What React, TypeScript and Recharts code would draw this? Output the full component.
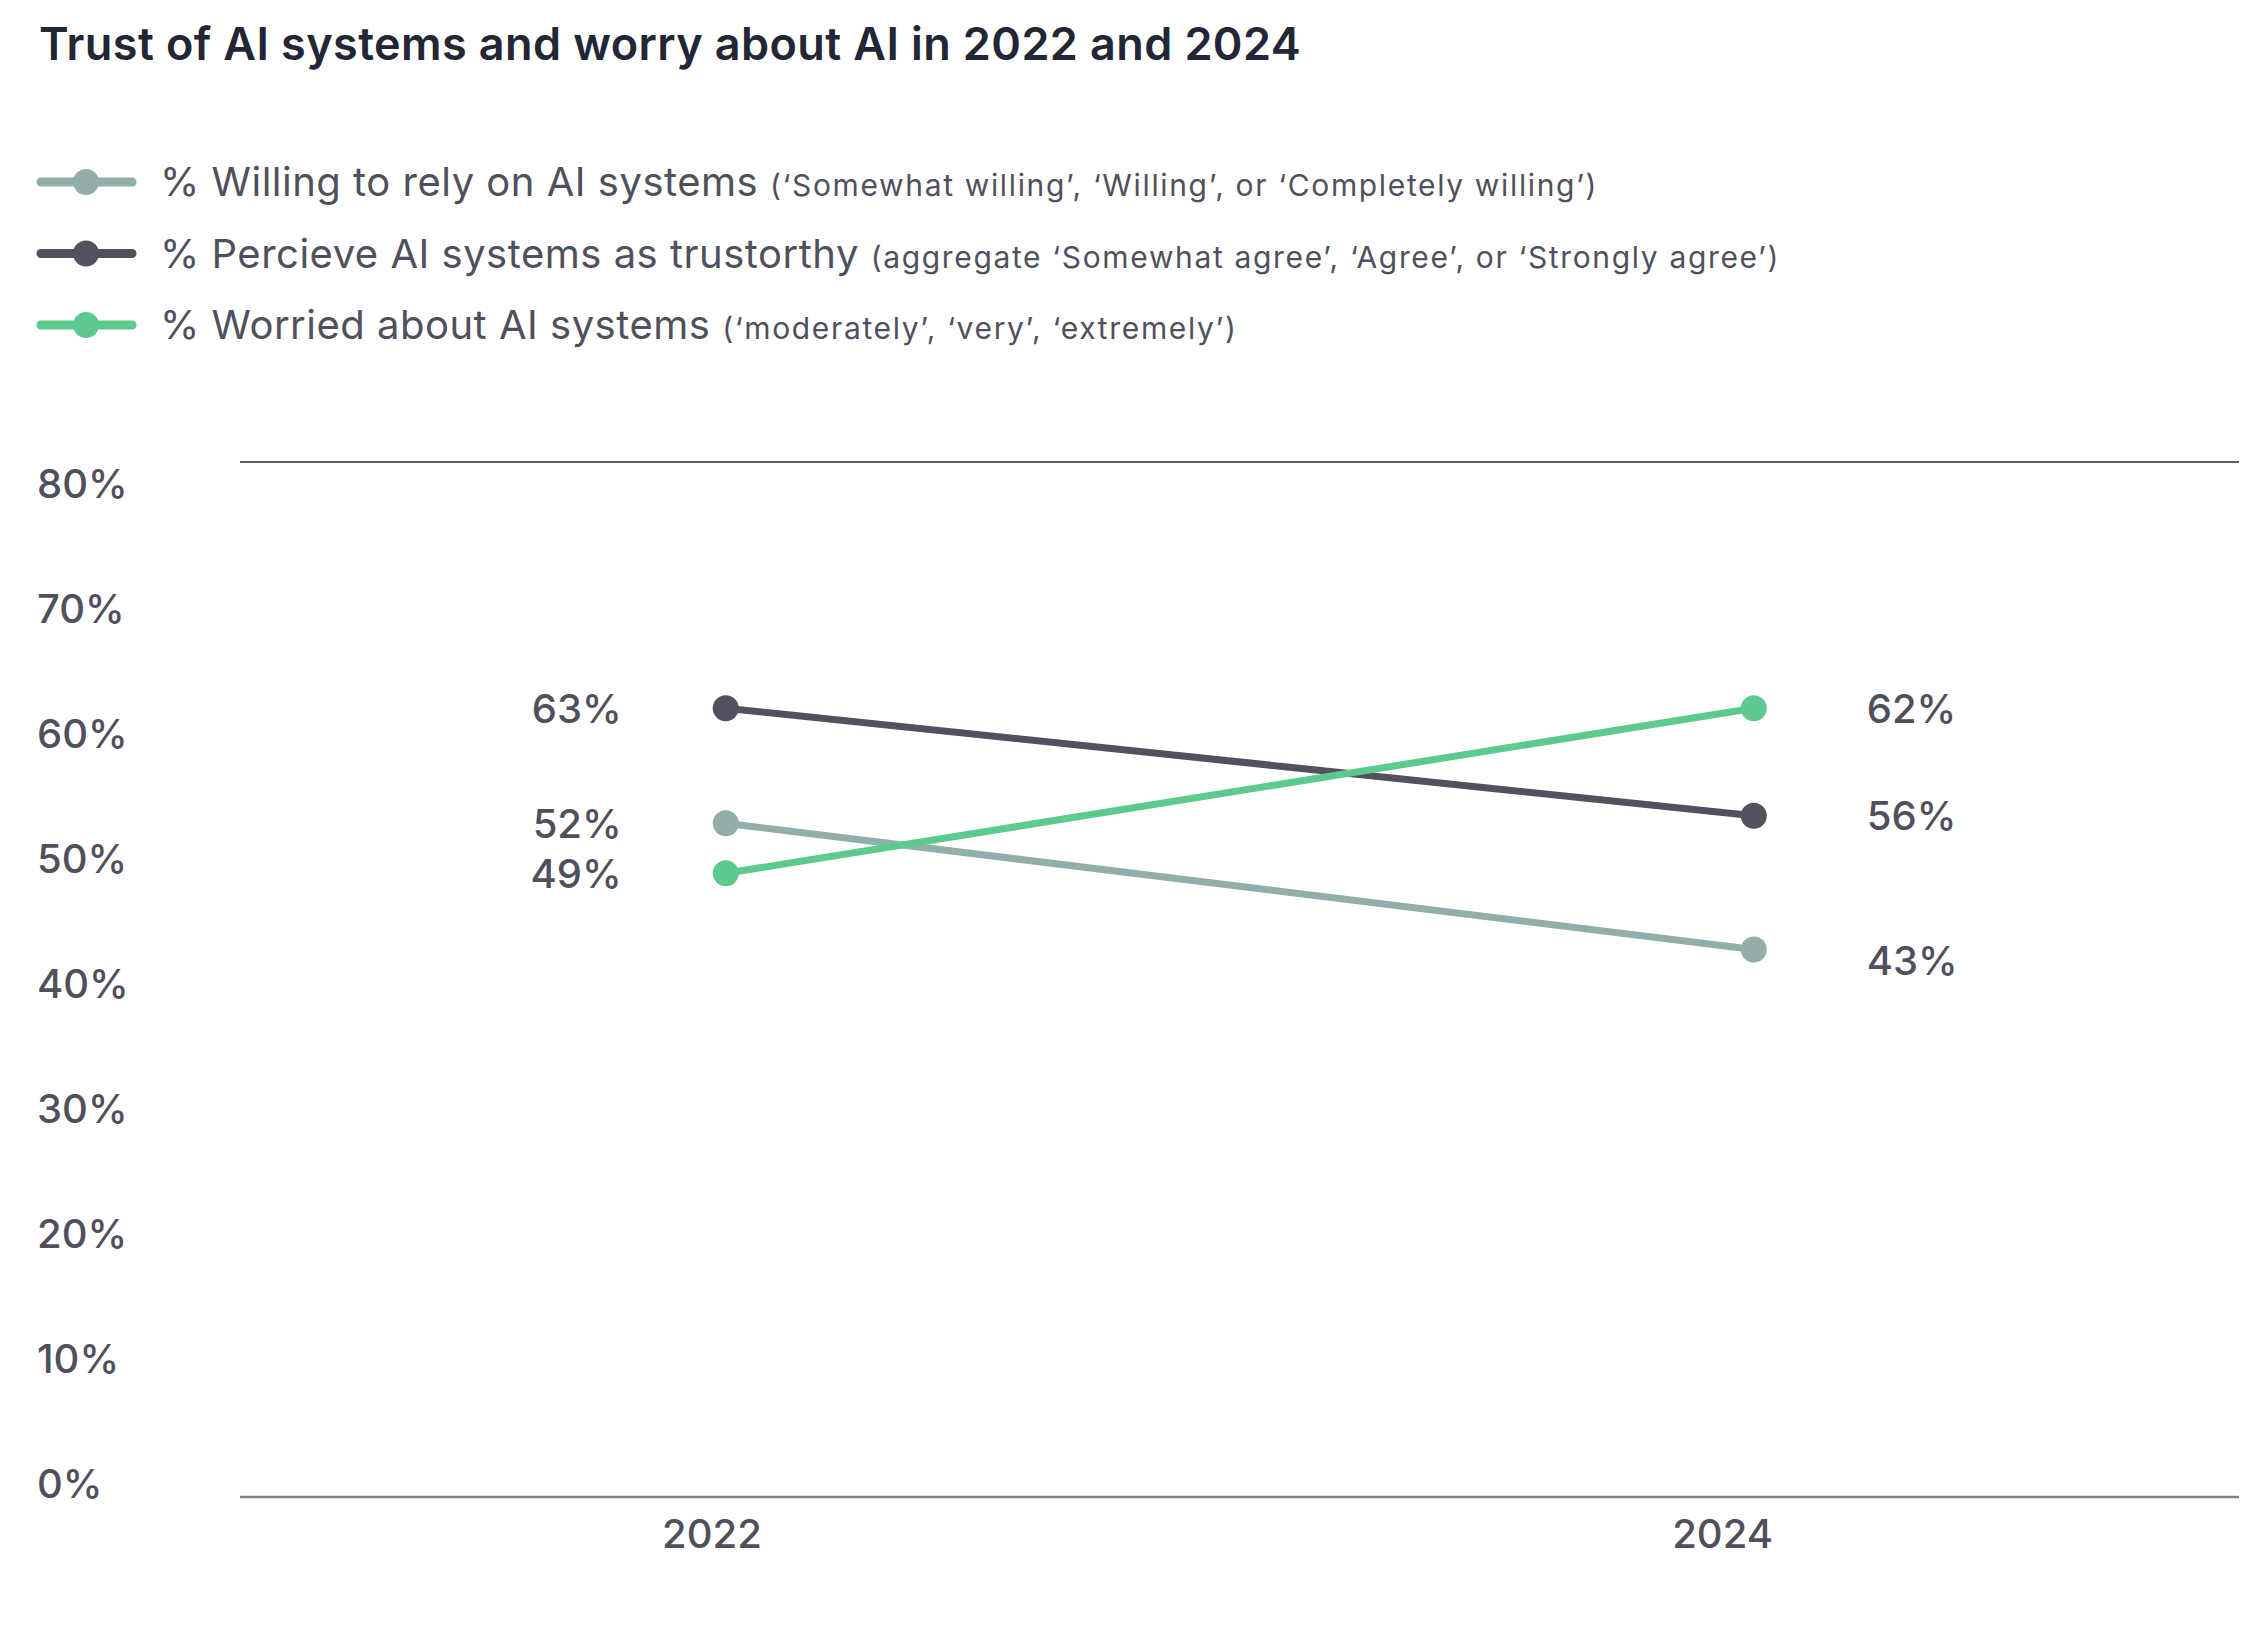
import { LineChart, Line, XAxis, YAxis, LabelList } from 'recharts'

const YEARS = [2022, 2024]
// positions (the printed labels are kept separately)
const WILLING = [52.8, 42.7]
const TRUSTWORTHY = [62.0, 53.4]
const WORRIED = [48.8, 62.0]
const WILLING_LABELS = ['52%', '43%']
const TRUSTWORTHY_LABELS = ['63%', '56%']
const WORRIED_LABELS = ['49%', '62%']
const Y_TICKS = [0, 10, 20, 30, 40, 50, 60, 70, 80]

const TITLE = 'Trust of AI systems and worry about AI in 2022 and 2024'
const LEGEND = [
  {
    name: '% Willing to rely on AI systems',
    note: '(‘Somewhat willing’, ‘Willing’, or ‘Completely willing’)',
    color: '#92aeaa',
  },
  {
    name: '% Percieve AI systems as trustorthy',
    note: '(aggregate ‘Somewhat agree’, ‘Agree’, or ‘Strongly agree’)',
    color: '#52525e',
  },
  {
    name: '% Worried about AI systems',
    note: '(‘moderately’, ‘very’, ‘extremely’)',
    color: '#5cc98f',
  },
]

const data = YEARS.map((year, i) => ({
  year,
  willing: WILLING[i],
  trustworthy: TRUSTWORTHY[i],
  worried: WORRIED[i],
  willingLabel: WILLING_LABELS[i],
  trustworthyLabel: TRUSTWORTHY_LABELS[i],
  worriedLabel: WORRIED_LABELS[i],
}))

const FONT = 'Inter, "Noto Sans", sans-serif'
const TEXT = '#50505c'

function PointLabel(props: any) {
  const { x, y, value, index, nudge } = props
  const left = index === 0
  const shift = nudge ? nudge[index] : 0
  return (
    <text
      x={left ? x - 104 : x + 113}
      y={y + shift}
      dy="0.36em"
      textAnchor={left ? 'end' : 'start'}
      fontFamily={FONT}
      fontSize={40}
      fontWeight={500}
      fill={TEXT}
    >
      {value}
    </text>
  )
}

function YTick(props: any) {
  const { y, payload } = props
  return (
    <text x={37} y={y} dy="0.36em" textAnchor="start" fontFamily={FONT} fontSize={40} fontWeight={500} fill={TEXT}>
      {payload.value}%
    </text>
  )
}

function XTick(props: any) {
  const { x, y, payload } = props
  return (
    <text x={x} y={y} dy="0.72em" textAnchor="middle" fontFamily={FONT} fontSize={40} fontWeight={500} fill={TEXT}>
      {payload.value}
    </text>
  )
}

export default function App() {
  return (
    <div style={{ position: 'absolute', left: 0, top: 0, width: 2266, height: 1632, background: '#fff' }}>
      <svg width={2266} height={380} style={{ position: 'absolute', left: 0, top: 0 }}>
        <text x={39} y={60} fontFamily={FONT} fontSize={45} fontWeight={600} letterSpacing={0.4} fill="#232735">
          {TITLE}
        </text>
        {LEGEND.map((item, i) => {
          const cy = 182 + i * 71.5
          return (
            <g key={item.name}>
              <line x1={41} x2={132} y1={cy} y2={cy} stroke={item.color} strokeWidth={9} strokeLinecap="round" />
              <circle cx={86} cy={cy} r={13} fill={item.color} />
              <text x={160} y={cy + 14} fontFamily={FONT} fill={TEXT}>
                <tspan fontSize={40} letterSpacing={0.5}>{item.name} </tspan>
                <tspan fontSize={30} letterSpacing={1.65}>{item.note}</tspan>
              </text>
            </g>
          )
        })}
      </svg>
      <div style={{ position: 'absolute', left: 0, top: 0 }}>
        <LineChart width={2266} height={1632} data={data} margin={{ top: 461, right: 27, bottom: 55, left: 0 }}>
          <XAxis
            xAxisId="main"
            dataKey="year"
            type="number"
            orientation="top"
            domain={[2021.055, 2024.944]}
            allowDataOverflow
            height={1}
            tick={false}
            tickLine={false}
            axisLine={{ stroke: '#5a5c66', strokeWidth: 2 }}
          />
          <XAxis
            xAxisId="labels"
            dataKey="year"
            type="number"
            domain={[2021.066, 2025.022]}
            ticks={YEARS}
            allowDataOverflow
            height={80}
            axisLine={{ stroke: '#808289', strokeWidth: 2.5 }}
            tickLine={false}
            tick={<XTick />}
            tickMargin={16}
          />
          <YAxis
            type="number"
            domain={[-1.1, 81.7]}
            ticks={Y_TICKS}
            allowDataOverflow
            width={240}
            axisLine={false}
            tickLine={false}
            tick={<YTick />}
          />
          <Line
            xAxisId="labels"
            dataKey="willing"
            stroke="none"
            dot={false}
            activeDot={false}
            legendType="none"
            isAnimationActive={false}
          />
          <Line
            xAxisId="main"
            dataKey="willing"
            stroke={LEGEND[0].color}
            strokeWidth={7}
            dot={{ r: 13, fill: LEGEND[0].color, stroke: 'none' }}
            activeDot={false}
            isAnimationActive={false}
          >
            <LabelList dataKey="willingLabel" content={<PointLabel nudge={[0, 11]} />} />
          </Line>
          <Line
            xAxisId="main"
            dataKey="trustworthy"
            stroke={LEGEND[1].color}
            strokeWidth={7}
            dot={{ r: 13, fill: LEGEND[1].color, stroke: 'none' }}
            activeDot={false}
            isAnimationActive={false}
          >
            <LabelList dataKey="trustworthyLabel" content={<PointLabel />} />
          </Line>
          <Line
            xAxisId="main"
            dataKey="worried"
            stroke={LEGEND[2].color}
            strokeWidth={7}
            dot={{ r: 13, fill: LEGEND[2].color, stroke: 'none' }}
            activeDot={false}
            isAnimationActive={false}
          >
            <LabelList dataKey="worriedLabel" content={<PointLabel />} />
          </Line>
        </LineChart>
      </div>
    </div>
  )
}
